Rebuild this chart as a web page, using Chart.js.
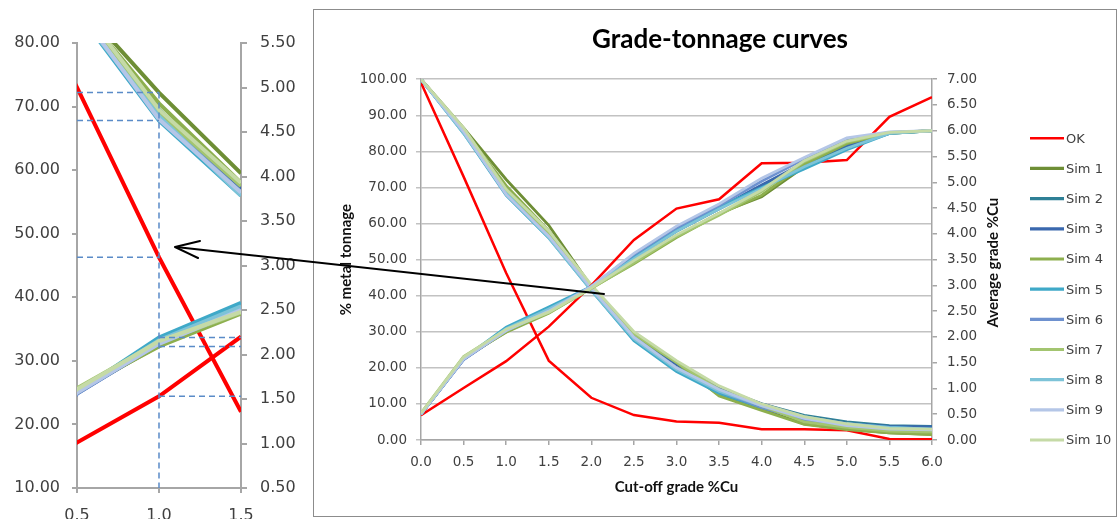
<!DOCTYPE html>
<html><head><meta charset="utf-8">
<script src="https://cdn.jsdelivr.net/npm/chart.js@4.4.1/dist/chart.umd.min.js"></script>
<style>
html,body{margin:0;padding:0;background:#fff;overflow:hidden;width:1119px;height:519px;position:relative;}
#insetWrap{position:absolute;left:0;top:0;width:310px;height:560px;}
#box{position:absolute;left:313px;top:9px;width:802px;height:506px;border:1px solid #8c8c8c;background:#fff;}
#arrow{position:absolute;left:0;top:0;pointer-events:none;}
canvas{display:block;}
</style></head><body>
<div id="insetWrap"><canvas id="inset" width="310" height="560"></canvas></div>
<div id="box"><canvas id="main" width="802" height="506"></canvas></div>
<svg id="arrow" width="1119" height="519"><g stroke="#000" stroke-width="2" fill="none" stroke-linecap="round" stroke-linejoin="round"><line x1="604" y1="294" x2="176" y2="247"/><polyline points="200,241 175,247 198,258"/></g></svg>
<script>
// ---------------- DATA ----------------
const cutoff = [0.0, 0.5, 1.0, 1.5, 2.0, 2.5, 3.0, 3.5, 4.0, 4.5, 5.0, 5.5, 6.0];
const seriesNames = ['OK','Sim 1','Sim 2','Sim 3','Sim 4','Sim 5','Sim 6','Sim 7','Sim 8','Sim 9','Sim 10'];
const seriesColors = ['#FF0000','#6E8E35','#2F8096','#3A68AE','#8DAF4E','#3FA9C8','#6E91CF','#A3C570','#7DC3D8','#B4C6E7','#C5DAA6'];

// % metal tonnage (left axis)
const tonOK    = [99.0, 73.0, 46.3, 22.0, 11.7, 6.9, 5.1, 4.8, 3.0, 3.0, 2.7, 0.3, 0.2];
const tonSim1  = [100, 86.5, 72.2, 59.5, 42.5, 29.5, 21.0, 12.5, 8.5, 4.5, 3.0, 2.0, 1.6];
const tonSim2  = [100, 85.5, 69.5, 57.5, 42.0, 28.0, 20.0, 14.0, 10.0, 6.8, 5.0, 4.0, 3.8];
const tonSim3  = [100, 85.5, 69.0, 57.0, 42.0, 28.5, 21.0, 14.5, 10.0, 6.5, 4.6, 3.8, 3.6];
const tonSim4  = [100, 86.0, 70.5, 58.0, 42.5, 29.0, 21.5, 12.2, 8.2, 4.3, 2.9, 2.0, 1.5];
const tonSim5  = [100, 85.0, 67.8, 56.0, 41.5, 27.5, 19.0, 13.0, 9.0, 6.0, 4.5, 3.5, 3.0];
const tonSim6  = [100, 85.5, 68.5, 56.5, 42.0, 28.5, 20.0, 13.5, 9.0, 5.5, 3.8, 3.0, 2.5];
const tonSim7  = [100, 86.0, 69.0, 57.5, 42.5, 29.5, 21.5, 14.0, 9.5, 5.0, 3.5, 2.5, 2.2];
const tonSim8  = [100, 85.0, 68.5, 56.0, 41.5, 28.0, 19.5, 13.5, 9.5, 6.5, 4.5, 3.5, 3.0];
const tonSim9  = [100, 85.5, 68.0, 56.5, 42.0, 28.5, 20.0, 14.0, 9.5, 6.0, 4.0, 3.0, 2.8];
const tonSim10 = [100, 86.5, 69.5, 58.0, 43.0, 30.0, 22.0, 15.0, 10.0, 6.5, 4.5, 3.2, 3.0];

// Average grade %Cu (right axis)
const gradeOK    = [0.48, 1.01, 1.53, 2.20, 3.00, 3.88, 4.49, 4.67, 5.37, 5.38, 5.43, 6.27, 6.65];
const gradeSim1  = [0.50, 1.58, 2.10, 2.48, 2.97, 3.45, 3.95, 4.40, 4.72, 5.30, 5.72, 5.95, 6.00];
const gradeSim2  = [0.50, 1.57, 2.14, 2.52, 2.96, 3.52, 4.05, 4.48, 4.92, 5.32, 5.68, 5.95, 6.00];
const gradeSim3  = [0.50, 1.56, 2.12, 2.50, 2.97, 3.55, 4.08, 4.50, 4.95, 5.38, 5.72, 5.96, 6.00];
const gradeSim4  = [0.51, 1.60, 2.09, 2.46, 2.95, 3.42, 3.93, 4.38, 4.75, 5.35, 5.75, 5.96, 6.00];
const gradeSim5  = [0.50, 1.58, 2.19, 2.58, 2.98, 3.55, 4.10, 4.52, 4.90, 5.26, 5.63, 5.95, 6.00];
const gradeSim6  = [0.50, 1.56, 2.13, 2.52, 2.98, 3.60, 4.12, 4.55, 5.02, 5.45, 5.82, 5.97, 6.00];
const gradeSim7  = [0.52, 1.62, 2.14, 2.47, 2.94, 3.44, 3.95, 4.36, 4.82, 5.40, 5.78, 5.96, 6.00];
const gradeSim8  = [0.50, 1.58, 2.16, 2.54, 2.96, 3.52, 4.05, 4.48, 4.88, 5.30, 5.66, 5.95, 6.00];
const gradeSim9  = [0.50, 1.57, 2.12, 2.50, 2.98, 3.62, 4.15, 4.58, 5.08, 5.48, 5.86, 5.98, 6.00];
const gradeSim10 = [0.52, 1.61, 2.15, 2.48, 2.95, 3.48, 3.98, 4.40, 4.85, 5.42, 5.80, 5.97, 6.00];

// tick labels
const tonnageTicks = [0,10,20,30,40,50,60,70,80,90,100];
const gradeTicks = [0,0.5,1,1.5,2,2.5,3,3.5,4,4.5,5,5.5,6,6.5,7];
const insetCutoffTicks = [0.5, 1.0, 1.5];
const insetTonnageTicks = [10,20,30,40,50,60,70,80];
const insetGradeTicks = [0.5,1,1.5,2,2.5,3,3.5,4,4.5,5,5.5];

const tonnageSeries = [tonOK,tonSim1,tonSim2,tonSim3,tonSim4,tonSim5,tonSim6,tonSim7,tonSim8,tonSim9,tonSim10];
const gradeSeries = [gradeOK,gradeSim1,gradeSim2,gradeSim3,gradeSim4,gradeSim5,gradeSim6,gradeSim7,gradeSim8,gradeSim9,gradeSim10];

// ---------------- HELPERS ----------------
const pts = arr => arr.map((v,i)=>({x:cutoff[i], y:v}));
const TICK_FONT = 'DejaVu Sans';
const LBL = '#404040';
const AXIS = '#a6a6a6';

function buildDatasets(wOK, wSim, clip) {
  const ds = [];
  seriesNames.forEach((name,i)=>{
    ds.push({label:name, legendItem:true, data:pts(tonnageSeries[i]), yAxisID:'y',
      borderColor:seriesColors[i], backgroundColor:seriesColors[i],
      borderWidth: i===0?wOK:wSim, pointRadius:0, tension:0, order: 60 - i, clip:clip});
  });
  seriesNames.forEach((name,i)=>{
    ds.push({label:name+' grade', data:pts(gradeSeries[i]), yAxisID:'y2',
      borderColor:seriesColors[i], backgroundColor:seriesColors[i],
      borderWidth: i===0?wOK:wSim, pointRadius:0, tension:0, order: 40 - i, clip:clip});
  });
  return ds;
}

// ---------------- MAIN CHART ----------------
const mainDecor = {
  id:'mainDecor',
  afterDraw(chart){
    const ctx = chart.ctx, ca = chart.chartArea, y2 = chart.scales.y2;
    ctx.save();
    ctx.translate(y2.left + 61, (ca.top + ca.bottom)/2 + 3);
    ctx.rotate(-Math.PI/2);
    ctx.font = 'bold 15px Lato';
    ctx.fillStyle = '#111';
    ctx.textAlign = 'center';
    ctx.textBaseline = 'middle';
    ctx.fillText('Average grade %Cu', 0, 0);
    ctx.restore();
    // legend
    const items = chart.data.datasets.filter(d=>d.legendItem);
    const x0 = y2.left + 98;
    const yStart = 128.3, step = 30.17;
    ctx.save();
    ctx.font = '13px ' + TICK_FONT;
    ctx.textBaseline = 'middle';
    ctx.textAlign = 'left';
    items.forEach((d,i)=>{
      const y = yStart + i*step;
      ctx.strokeStyle = d.borderColor;
      ctx.lineWidth = i===0 ? 2.5 : 3.2;
      ctx.beginPath(); ctx.moveTo(x0, y); ctx.lineTo(x0+34, y); ctx.stroke();
      ctx.fillStyle = LBL;
      ctx.fillText(d.label, x0+36, y+1);
    });
    ctx.restore();
  }
};

new Chart(document.getElementById('main'), {
  type:'line',
  data:{datasets: buildDatasets(2.5, 2.8, undefined)},
  options:{
    responsive:false, animation:false, devicePixelRatio:1,
    layout:{padding:{left:10,right:0,top:0,bottom:0}},
    plugins:{
      legend:{display:false}, tooltip:{enabled:false},
      title:{display:true, text:'Grade-tonnage curves', color:'#000',
        font:{family:'Lato', weight:'bold', size:26, lineHeight:1.2}, padding:{top:14,bottom:24}}
    },
    scales:{
      x:{type:'linear', min:0, max:6,
        afterBuildTicks: s=>{ s.ticks = cutoff.map(v=>({value:v})); },
        afterFit: s=>{ s.height = 76; },
        ticks:{autoSkip:false, maxRotation:0, color:LBL, padding:9, font:{family:TICK_FONT,size:13.5}, callback:v=>Number(v).toFixed(1)},
        grid:{drawOnChartArea:false, drawTicks:true, tickLength:5, color:AXIS, lineWidth:1.5},
        border:{display:true, color:AXIS, width:1.5},
        title:{display:true, text:'Cut-off grade %Cu', color:'#111', font:{family:'Lato',weight:'bold',size:15,lineHeight:1.2}, padding:{top:0,bottom:20}}
      },
      y:{type:'linear', position:'left', min:0, max:100,
        afterBuildTicks: s=>{ s.ticks = tonnageTicks.map(v=>({value:v})); },
        afterFit: s=>{ s.width = 97; },
        ticks:{autoSkip:false, color:LBL, padding:9, font:{family:TICK_FONT,size:13.5}, callback:v=>Number(v).toFixed(2)},
        grid:{drawOnChartArea:true, drawTicks:true, tickLength:5, color:'#c2c2c2', lineWidth:1.5},
        border:{display:true, color:AXIS, width:1.5},
        title:{display:true, text:'% metal tonnage', color:'#111', font:{family:'Lato',weight:'bold',size:15,lineHeight:1.2}, padding:{top:13,bottom:0}}
      },
      y2:{type:'linear', position:'right', min:0, max:7,
        afterBuildTicks: s=>{ s.ticks = gradeTicks.map(v=>({value:v})); },
        afterFit: s=>{ s.width = 184; },
        ticks:{autoSkip:false, color:LBL, padding:10, font:{family:TICK_FONT,size:13.5}, callback:v=>Number(v).toFixed(2)},
        grid:{drawOnChartArea:false, drawTicks:true, tickLength:5, color:AXIS, lineWidth:1.5},
        border:{display:true, color:AXIS, width:1.5}
      }
    }
  },
  plugins:[mainDecor]
});

// ---------------- INSET (zoom) CHART ----------------
const iAt = cutoff.indexOf(1.0);
const simTonAt = tonnageSeries.slice(1).map(a=>a[iAt]);
const simGradeAt = gradeSeries.slice(1).map(a=>a[iAt]);
const guideTon = [Math.max(...simTonAt), Math.min(...simTonAt), tonOK[iAt]];
const guideGrade = [Math.max(...simGradeAt), Math.min(...simGradeAt), gradeOK[iAt]];
const insetX0 = insetCutoffTicks[0], insetX1 = insetCutoffTicks[insetCutoffTicks.length-1];
const guideStyle = {borderColor:'#5a8bc8', borderWidth:1.5, borderDash:[6,4], pointRadius:0, order:0, clip:0};
const insetDs = buildDatasets(4, 4, 0);
guideTon.forEach(v=>insetDs.push(Object.assign({data:[{x:insetX0,y:v},{x:cutoff[iAt],y:v}], yAxisID:'y'}, guideStyle)));
insetDs.push(Object.assign({data:[{x:cutoff[iAt],y:guideTon[0]},{x:cutoff[iAt],y:insetTonnageTicks[0]}], yAxisID:'y'}, guideStyle));
guideGrade.forEach(v=>insetDs.push(Object.assign({data:[{x:cutoff[iAt],y:v},{x:insetX1,y:v}], yAxisID:'y2'}, guideStyle)));

new Chart(document.getElementById('inset'), {
  type:'line',
  data:{datasets: insetDs},
  options:{
    responsive:false, animation:false, devicePixelRatio:1,
    layout:{padding:{left:0,right:0,top:43,bottom:0}},
    plugins:{legend:{display:false}, tooltip:{enabled:false}, title:{display:false}},
    scales:{
      x:{type:'linear', min:insetX0, max:insetX1,
        afterBuildTicks: s=>{ s.ticks = insetCutoffTicks.map(v=>({value:v})); },
        afterFit: s=>{ s.height = 72; },
        ticks:{autoSkip:false, maxRotation:0, color:LBL, padding:13, font:{family:TICK_FONT,size:16}, callback:v=>Number(v).toFixed(1)},
        grid:{drawOnChartArea:false, drawTicks:true, tickLength:5, color:AXIS, lineWidth:2},
        border:{display:true, color:AXIS, width:2}
      },
      y:{type:'linear', position:'left', min:10, max:80,
        afterBuildTicks: s=>{ s.ticks = insetTonnageTicks.map(v=>({value:v})); },
        afterFit: s=>{ s.width = 77; },
        ticks:{autoSkip:false, color:LBL, padding:12, font:{family:TICK_FONT,size:16}, callback:v=>Number(v).toFixed(2)},
        grid:{drawOnChartArea:false, drawTicks:true, tickLength:5, color:AXIS, lineWidth:2},
        border:{display:true, color:AXIS, width:2}
      },
      y2:{type:'linear', position:'right', min:0.5, max:5.5,
        afterBuildTicks: s=>{ s.ticks = insetGradeTicks.map(v=>({value:v})); },
        afterFit: s=>{ s.width = 69; },
        ticks:{autoSkip:false, color:LBL, padding:13, font:{family:TICK_FONT,size:16}, callback:v=>Number(v).toFixed(2)},
        grid:{drawOnChartArea:false, drawTicks:true, tickLength:6, color:AXIS, lineWidth:2},
        border:{display:true, color:AXIS, width:2}
      }
    }
  }
});
</script>
</body></html>
